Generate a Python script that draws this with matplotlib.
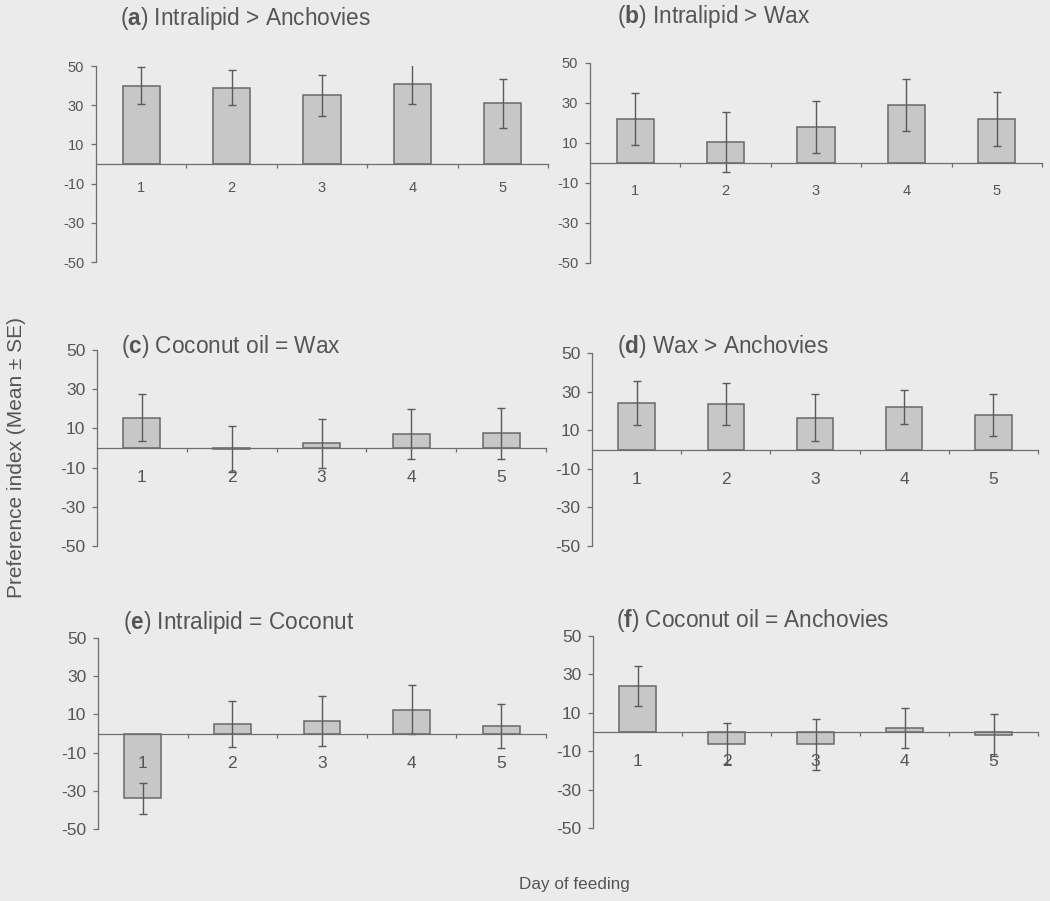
import numpy as np
import matplotlib
matplotlib.use("Agg")
import matplotlib.pyplot as plt

plt.rcParams['font.family'] = ['Liberation Sans', 'DejaVu Sans']
plt.rcParams['mathtext.fontset'] = 'custom'
plt.rcParams['mathtext.rm'] = 'Liberation Sans'
plt.rcParams['mathtext.bf'] = 'Liberation Sans:bold'

# data (mean and SE of preference index per day)
days = [1, 2, 3, 4, 5]
yticks = [-50, -30, -10, 10, 30, 50]

titles = [
    r"($\mathbf{a}$) Intralipid > Anchovies",
    r"($\mathbf{b}$) Intralipid > Wax",
    r"($\mathbf{c}$) Coconut oil = Wax",
    r"($\mathbf{d}$) Wax > Anchovies",
    r"($\mathbf{e}$) Intralipid = Coconut",
    r"($\mathbf{f}$) Coconut oil = Anchovies",
]

mean_a = [40, 39, 35, 41, 31]
se_a = [9.5, 9, 10.5, 10.5, 12.5]
mean_b = [22, 10.5, 18, 29, 22]
se_b = [13, 15, 13, 13, 13.5]
mean_c = [15.5, -0.5, 2.5, 7, 7.5]
se_c = [12, 11.5, 12.5, 12.7, 13]
mean_d = [24, 23.5, 16.5, 22, 18]
se_d = [11.5, 11, 12, 9, 11]
mean_e = [-34, 5, 6.5, 12.5, 4]
se_e = [8, 12, 13, 13, 11.7]
mean_f = [24, -6, -6.5, 2, -1.5]
se_f = [10.5, 10.5, 13.5, 10.5, 11]

means = [mean_a, mean_b, mean_c, mean_d, mean_e, mean_f]
ses = [se_a, se_b, se_c, se_d, se_e, se_f]

W, H = 1050, 901
bg = '#ebebeb'
txt = '#555555'
axc = '#6e6e6e'
barc = '#c7c7c7'
edgec = '#686868'

# pixel boxes: x left, x right, y of +50, y of -50
boxes = [
    (96, 548, 66, 262),
    (590, 1042, 63, 263),
    (97, 546, 350, 546),
    (592, 1038, 353, 546),
    (98, 546, 638, 829),
    (593, 1038, 636, 828),
]
title_pos = [(120, 18), (617, 16), (121, 347), (617, 346), (123, 622), (616, 620)]
tick_fs = [10.5, 10.5, 12.5, 12.5, 12.5, 12.5]
xpad = [12, 15, 16, 16, 16, 16]

fig = plt.figure(figsize=(W / 100, H / 100), dpi=100, facecolor=bg)

for i in range(6):
    x0, x1, yt, yb = boxes[i]
    ax = fig.add_axes([x0 / W, 1 - yb / H, (x1 - x0) / W, (yb - yt) / H])
    ax.set_facecolor('none')
    ax.bar(days, means[i], width=0.41, color=barc, edgecolor=edgec, linewidth=1.1, zorder=1)
    ax.errorbar(days, means[i], yerr=ses[i], fmt='none', ecolor='#5a5a5a',
                elinewidth=1.0, capsize=2.6, capthick=1.0, zorder=2)
    ax.set_xlim(0.5, 5.5)
    ax.set_ylim(-50, 50)
    ax.set_yticks(yticks)
    ax.set_yticklabels([str(v) for v in yticks])
    ax.spines['top'].set_visible(False)
    ax.spines['right'].set_visible(False)
    ax.spines['bottom'].set_position(('data', 0))
    for s in ['left', 'bottom']:
        ax.spines[s].set_color(axc)
        ax.spines[s].set_linewidth(0.9)
    ax.set_xticks([1.5, 2.5, 3.5, 4.5, 5.5])
    ax.set_xticklabels([])
    ax.set_xticks(days, minor=True)
    ax.set_xticklabels([str(d) for d in days], minor=True)
    ax.tick_params(axis='x', which='major', direction='out', length=3, width=0.9, color=axc)
    ax.tick_params(axis='x', which='minor', length=0, pad=xpad[i], labelsize=tick_fs[i], labelcolor=txt)
    ax.tick_params(axis='y', direction='out', length=3.5, width=0.9, color=axc,
                   pad=5, labelsize=tick_fs[i], labelcolor=txt)
    tx, ty = title_pos[i]
    fig.text(tx / W, 1 - ty / H, titles[i], ha='left', va='center', fontsize=16.3, color=txt)

fig.text(17 / W, 1 - 457 / H, 'Preference index (Mean ± SE)', rotation=90,
         ha='center', va='center', fontsize=15, color=txt)
fig.text(574 / W, 1 - 885 / H, 'Day of feeding', ha='center', va='center', fontsize=12.3, color=txt)

fig.savefig('out.png', dpi=100, facecolor=bg)
